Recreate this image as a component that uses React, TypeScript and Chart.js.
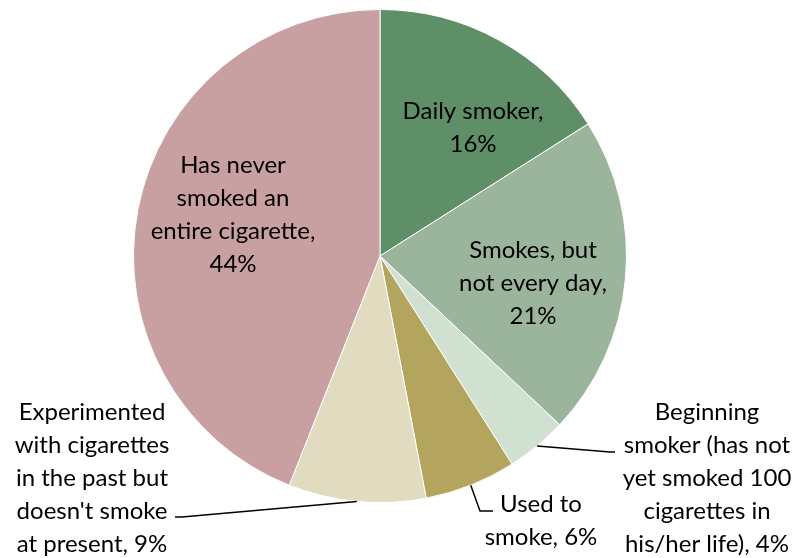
import React, { useEffect, useRef } from "react";
import { Chart, registerables } from "chart.js";

Chart.register(...registerables);

const categories = [
  "Daily smoker",
  "Smokes, but not every day",
  "Beginning smoker (has not yet smoked 100 cigarettes in his/her life)",
  "Used to smoke",
  "Experimented with cigarettes in the past but doesn't smoke at present",
  "Has never smoked an entire cigarette",
];
const values = [16, 21, 4, 6, 9, 44];
const colors = ["#5f8f67", "#9bb59c", "#d0e1d2", "#b3a55d", "#e1dcbf", "#c9a0a1"];
const labelLines = [
  ["Daily smoker,", "16%"],
  ["Smokes, but", "not every day,", "21%"],
  ["Beginning", "smoker (has not", "yet smoked 100", "cigarettes in", "his/her life), 4%"],
  ["Used to", "smoke, 6%"],
  ["Experimented", "with cigarettes", "in the past but", "doesn't smoke", "at present, 9%"],
  ["Has never", "smoked an", "entire cigarette,", "44%"],
];

// label layout: centre of text block relative to pie centre (dx, dy), and optional leader path
type Lay = { dx: number; dy: number; leader?: number[][] };
const layout: Lay[] = [
  { dx: 93, dy: -128 },
  { dx: 153, dy: 27 },
  { dx: 327, dy: 222, leader: [[230, 196], [235, 196]] },
  { dx: 161, dy: 265, leader: [[100, 255], [113, 255]] },
  { dx: -288, dy: 222, leader: [[-198, 261], [-205, 261]] },
  { dx: -147, dy: -41 },
];

const FONT = "24px Lato";
const LINE_H = 33;

const labelPlugin = {
  id: "pieLabels",
  afterDatasetsDraw(chart: any) {
    const ctx = chart.ctx;
    const meta = chart.getDatasetMeta(0);
    ctx.save();
    ctx.font = FONT;
    ctx.fillStyle = "#000";
    ctx.textAlign = "center";
    ctx.textBaseline = "middle";
    meta.data.forEach((arc: any, i: number) => {
      const { x, y, startAngle, endAngle, outerRadius } = arc.getProps(
        ["x", "y", "startAngle", "endAngle", "outerRadius"],
        true
      );
      const lay = layout[i];
      const lines = labelLines[i];
      const cx = x + lay.dx;
      const cy = y + lay.dy;
      lines.forEach((ln, k) => {
        ctx.fillText(ln, cx, cy + (k - (lines.length - 1) / 2) * LINE_H);
      });
      if (lay.leader) {
        const mid = (startAngle + endAngle) / 2;
        const sx = x + Math.cos(mid) * outerRadius;
        const sy = y + Math.sin(mid) * outerRadius;
        ctx.beginPath();
        ctx.strokeStyle = "#000";
        ctx.lineWidth = 1.5;
        ctx.moveTo(sx, sy);
        lay.leader.forEach((p) => ctx.lineTo(x + p[0], y + p[1]));
        ctx.stroke();
      }
    });
    ctx.restore();
  },
};

export default function App() {
  const ref = useRef<HTMLCanvasElement>(null);
  useEffect(() => {
    if (!ref.current) return;
    const chart = new Chart(ref.current, {
      type: "pie",
      data: {
        labels: categories,
        datasets: [
          {
            data: values,
            backgroundColor: colors,
            borderColor: "#ffffff",
            borderWidth: 1,
          },
        ],
      },
      options: {
        animation: false,
        responsive: false,
        layout: { padding: { left: 133, right: 176, top: 9, bottom: 55 } },
        plugins: {
          legend: { display: false },
          tooltip: { enabled: false },
        },
      },
      plugins: [labelPlugin],
    });
    return () => chart.destroy();
  }, []);
  return (
    <div style={{ position: "absolute", left: 0, top: 0, width: 803, height: 558, background: "#fff" }}>
      <canvas ref={ref} width={803} height={558} />
    </div>
  );
}
